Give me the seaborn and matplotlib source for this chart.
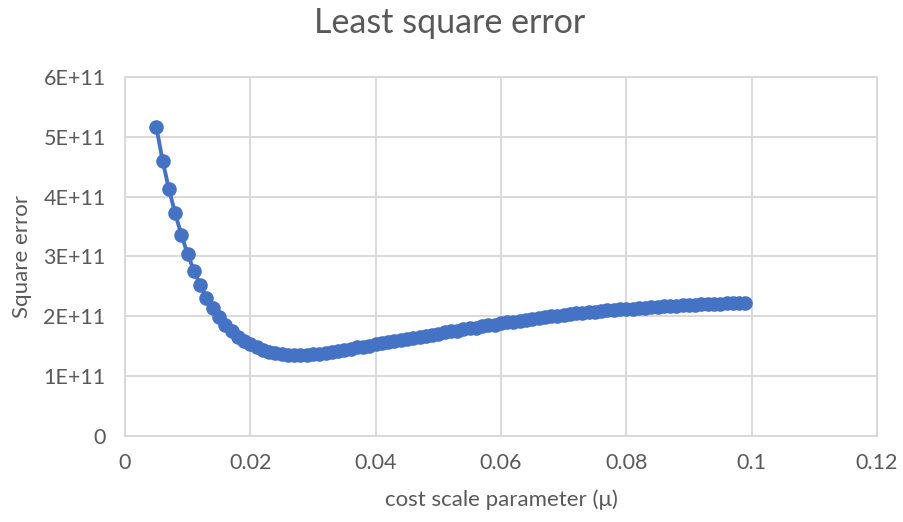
import matplotlib
matplotlib.use("Agg")
import matplotlib.pyplot as plt
import seaborn as sns
import pandas as pd

# cost scale parameter (mu) sampled on the fitting grid
mu = [
    0.005, 0.006, 0.007, 0.008, 0.009, 0.010, 0.011, 0.012, 0.013, 0.014,
    0.015, 0.016, 0.017, 0.018, 0.019, 0.020, 0.021, 0.022, 0.023, 0.024,
    0.025, 0.026, 0.027, 0.028, 0.029, 0.030, 0.031, 0.032, 0.033, 0.034,
    0.035, 0.036, 0.037, 0.038, 0.039, 0.040, 0.041, 0.042, 0.043, 0.044,
    0.045, 0.046, 0.047, 0.048, 0.049, 0.050, 0.051, 0.052, 0.053, 0.054,
    0.055, 0.056, 0.057, 0.058, 0.059, 0.060, 0.061, 0.062, 0.063, 0.064,
    0.065, 0.066, 0.067, 0.068, 0.069, 0.070, 0.071, 0.072, 0.073, 0.074,
    0.075, 0.076, 0.077, 0.078, 0.079, 0.080, 0.081, 0.082, 0.083, 0.084,
    0.085, 0.086, 0.087, 0.088, 0.089, 0.090, 0.091, 0.092, 0.093, 0.094,
    0.095, 0.096, 0.097, 0.098, 0.099,
]

# least square error, in units of 1E+11
sq_error_e11 = [
    5.16, 4.60, 4.13, 3.72, 3.36, 3.04, 2.76, 2.52, 2.31, 2.14,
    1.99, 1.86, 1.75, 1.66, 1.59, 1.53, 1.48, 1.44, 1.41, 1.39,
    1.37, 1.36, 1.355, 1.355, 1.36, 1.365, 1.375, 1.39, 1.40, 1.42,
    1.44, 1.46, 1.48, 1.49, 1.51, 1.53, 1.55, 1.57, 1.58, 1.60,
    1.62, 1.64, 1.66, 1.67, 1.69, 1.71, 1.73, 1.75, 1.76, 1.78,
    1.80, 1.81, 1.83, 1.85, 1.86, 1.88, 1.90, 1.91, 1.93, 1.94,
    1.96, 1.97, 1.99, 2.00, 2.01, 2.03, 2.04, 2.05, 2.06, 2.07,
    2.08, 2.09, 2.10, 2.11, 2.115, 2.12, 2.13, 2.14, 2.145, 2.15,
    2.16, 2.165, 2.17, 2.18, 2.185, 2.19, 2.195, 2.20, 2.205, 2.21,
    2.21, 2.215, 2.22, 2.22, 2.22,
]

x_ticks = [0, 0.02, 0.04, 0.06, 0.08, 0.1, 0.12]
x_tick_labels = ["0", "0.02", "0.04", "0.06", "0.08", "0.1", "0.12"]
y_ticks = [0, 1e11, 2e11, 3e11, 4e11, 5e11, 6e11]
y_tick_labels = ["0", "1E+11", "2E+11", "3E+11", "4E+11", "5E+11", "6E+11"]

df = pd.DataFrame({
    "mu": mu,
    "error": [v * 1e11 for v in sq_error_e11],
})

sns.set_theme(style="white")
plt.rcParams["font.family"] = ["Lato", "DejaVu Sans"]

text_grey = "#595959"
grid_grey = "#d9d9d9"
blue = "#4472c4"

fig = plt.figure(figsize=(9.04, 5.22), dpi=100)
ax = fig.add_axes([0.1383, 0.1648, 0.970 - 0.1383, 0.8525 - 0.1648])

sns.lineplot(
    data=df, x="mu", y="error", ax=ax,
    color=blue, linewidth=2.8,
    marker="o", markersize=10.5, markeredgewidth=0,
    markerfacecolor=blue, zorder=3,
)

ax.set_xlim(0, 0.12)
ax.set_ylim(0, 6e11)
ax.set_xticks(x_ticks)
ax.set_xticklabels(x_tick_labels)
ax.set_yticks(y_ticks)
ax.set_yticklabels(y_tick_labels)

ax.grid(True, color=grid_grey, linewidth=1.4)
ax.set_axisbelow(True)
for side, spine in ax.spines.items():
    spine.set_color(grid_grey)
    spine.set_linewidth(1.4)

ax.tick_params(axis="both", length=0, labelsize=15.5, colors=text_grey)
ax.tick_params(axis="y", pad=14)
ax.tick_params(axis="x", pad=12)

ax.set_xlabel("cost scale parameter (μ)", fontsize=16, color=text_grey, labelpad=12)
ax.set_ylabel("Square error", fontsize=16, color=text_grey, labelpad=8)
fig.text(0.497, 1 - 23 / 522, "Least square error", fontsize=24.5,
         color=text_grey, ha="center", va="center")

fig.savefig("out.png", dpi=100, facecolor="white")
